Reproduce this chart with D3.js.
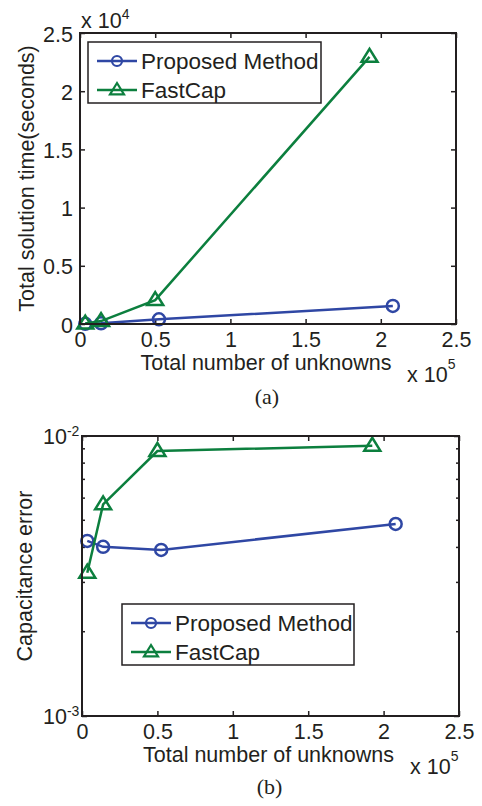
<!DOCTYPE html>
<html><head><meta charset="utf-8">
<script src="https://cdn.jsdelivr.net/npm/d3@7"></script>
<style>
html,body{margin:0;padding:0;background:#fff;}
svg{display:block;}
text{font-family:"Liberation Sans",Arial,sans-serif;fill:#231f20;}
</style></head>
<body>
<svg id="c" width="482" height="806"></svg>
<script>
// ---- data ----
const seriesNames = ["Proposed Method", "FastCap"];
const proposedX = [3500, 14000, 52500, 208000];
const fastcapX  = [3500, 14000, 50000, 192500];
// (a) total solution time (seconds)
const proposedTime = [20, 60, 400, 1550];
const fastcapTime  = [40, 250, 2050, 22950];
// (b) capacitance error
const proposedErr = [0.00422, 0.00402, 0.00392, 0.00485];
const fastcapErr  = [0.00325, 0.00570, 0.00884, 0.00923];
// ticks
const xTicks = [0, 50000, 100000, 150000, 200000, 250000];
const xTickLabels = ["0", "0.5", "1", "1.5", "2", "2.5"];
const yTicksA = [0, 5000, 10000, 15000, 20000, 25000];
const yTickLabelsA = ["0", "0.5", "1", "1.5", "2", "2.5"];
const yMinorB = [0.002,0.003,0.004,0.005,0.006,0.007,0.008,0.009];

const BLUE = "#2f47a4", GREEN = "#0c7f3e", INK = "#231f20";
const FS = "21.5px";
const svg = d3.select("#c");
svg.append("rect").attr("width",482).attr("height",806).attr("fill","#fff");

function marker(g, type, cx, cy, color){
  if(type==="o"){
    g.append("circle").attr("cx",cx).attr("cy",cy).attr("r",6)
      .attr("fill","none").attr("stroke",color).attr("stroke-width",2.5);
  } else {
    const s=8;
    g.append("path").attr("d",`M${cx},${cy-s}L${cx+s},${cy+s*0.62}L${cx-s},${cy+s*0.62}Z`)
      .attr("fill","none").attr("stroke",color).attr("stroke-width",2.5).attr("stroke-linejoin","miter");
  }
}

function drawPanel(opt){
  const {L,R,T,B,y,yTicks,yFmt,series,legend,caption,xlabelY,capY,ylabel,ylabelX} = opt;
  const x = d3.scaleLinear().domain([0,250000]).range([L,R]);
  const g = svg.append("g");
  const fmtX = d => xTickLabels[xTicks.indexOf(d)];
  const axB = g.append("g").attr("transform",`translate(0,${B})`)
    .call(d3.axisBottom(x).tickValues(xTicks).tickSize(-5).tickPadding(8).tickFormat(fmtX));
  const axT = g.append("g").attr("transform",`translate(0,${T})`)
    .call(d3.axisTop(x).tickValues(xTicks).tickSize(-5).tickFormat(""));
  const axL = g.append("g").attr("transform",`translate(${L},0)`)
    .call(d3.axisLeft(y).tickValues(yTicks).tickSize(-5).tickPadding(7).tickFormat(yFmt));
  const axR = g.append("g").attr("transform",`translate(${R},0)`)
    .call(d3.axisRight(y).tickValues(yTicks).tickSize(-5).tickFormat(""));
  [axB,axT,axL,axR].forEach(a=>{
    a.select(".domain").remove();
    a.selectAll("line").attr("stroke",INK).attr("stroke-width",1.5);
    a.selectAll("text").style("font-size",FS).attr("fill",INK)
      .style("font-family","'Liberation Sans',Arial,sans-serif");
  });
  axL.selectAll("text").attr("dy","0.38em");
  if(opt.minor){
    [[L,1],[R,-1]].forEach(([xx,dir])=>{
      g.selectAll(null).data(opt.minor).enter().append("line")
        .attr("x1",xx).attr("x2",xx+dir*3).attr("y1",d=>y(d)).attr("y2",d=>y(d))
        .attr("stroke",INK).attr("stroke-width",1.5);
    });
  }
  const line = d3.line().x(d=>x(d[0])).y(d=>y(d[1]));
  series.forEach(s=>{
    const pts = s.xs.map((v,i)=>[v,s.ys[i]]);
    g.append("path").attr("d",line(pts)).attr("fill","none")
      .attr("stroke",s.color).attr("stroke-width",2.5);
    pts.forEach(p=>marker(g,s.type,x(p[0]),y(p[1]),s.color));
  });
  g.append("rect").attr("x",L).attr("y",T).attr("width",R-L).attr("height",B-T)
    .attr("fill","none").attr("stroke",INK).attr("stroke-width",2);
  // legend
  const lg = g.append("g");
  lg.append("rect").attr("x",legend.x).attr("y",legend.y).attr("width",legend.w).attr("height",legend.h)
    .attr("fill","#fff").attr("stroke",INK).attr("stroke-width",1.5);
  series.forEach((s,i)=>{
    const yy = legend.y + 19 + i*29;
    const x0 = legend.x + 9, x1 = x0 + 40;
    lg.append("line").attr("x1",x0).attr("x2",x1).attr("y1",yy).attr("y2",yy)
      .attr("stroke",s.color).attr("stroke-width",2.5);
    if(s.type==="o"){
      lg.append("circle").attr("cx",(x0+x1)/2).attr("cy",yy).attr("r",5)
        .attr("fill","none").attr("stroke",s.color).attr("stroke-width",2.2);
    } else {
      const cx=(x0+x1)/2, sz=7;
      lg.append("path").attr("d",`M${cx},${yy-sz}L${cx+sz},${yy+sz*0.62}L${cx-sz},${yy+sz*0.62}Z`)
        .attr("fill","none").attr("stroke",s.color).attr("stroke-width",2.2);
    }
    lg.append("text").attr("x",x1+4).attr("y",yy).attr("dy","0.36em")
      .style("font-size","22.5px").text(s.name);
  });
  g.append("text").attr("x",(L+R)/2-2).attr("y",xlabelY).attr("text-anchor","middle")
    .style("font-size",FS).text("Total number of unknowns");
  const xm = g.append("text").attr("x",R-49).attr("y",xlabelY+12).style("font-size",FS);
  xm.append("tspan").text("x 10");
  xm.append("tspan").attr("dy",-13).style("font-size","14px").text("5");
  g.append("text").attr("transform",`translate(${ylabelX},${(T+B)/2}) rotate(-90)`)
    .attr("text-anchor","middle").style("font-size",FS).text(ylabel);
  g.append("text").attr("x",(L+R)/2-1).attr("y",capY).attr("text-anchor","middle")
    .style("font-family","'Liberation Serif','Times New Roman',serif").style("font-size","22px").text(caption);
  return {g,x,y};
}

// ---- panel (a) ----
const yA = d3.scaleLinear().domain([0,25000]).range([324,33]);
const pa = drawPanel({
  L:80,R:456,T:33,B:324,y:yA,yTicks:yTicksA,
  yFmt:d=>yTickLabelsA[yTicksA.indexOf(d)],
  series:[
    {name:seriesNames[0],xs:proposedX,ys:proposedTime,color:BLUE,type:"o"},
    {name:seriesNames[1],xs:fastcapX,ys:fastcapTime,color:GREEN,type:"^"}],
  legend:{x:88,y:42,w:233,h:61},
  caption:"(a)",xlabelY:370,capY:404,
  ylabel:"Total solution time(seconds)",ylabelX:34
});
const xa = pa.g.append("text").attr("x",81).attr("y",28).style("font-size",FS);
xa.append("tspan").text("x 10");
xa.append("tspan").attr("dy",-9).style("font-size","14px").text("4");

// ---- panel (b) ----
const yB = d3.scaleLog().domain([0.001,0.01]).range([716,436]);
const pb = drawPanel({
  L:82,R:459,T:436,B:716,y:yB,yTicks:[0.001,0.01],
  yFmt:()=>"",minor:yMinorB,
  series:[
    {name:seriesNames[0],xs:proposedX,ys:proposedErr,color:BLUE,type:"o"},
    {name:seriesNames[1],xs:fastcapX,ys:fastcapErr,color:GREEN,type:"^"}],
  legend:{x:122,y:604,w:232,h:61},
  caption:"(b)",xlabelY:762,capY:794,
  ylabel:"Capacitance error",ylabelX:32
});
[[0.01],[0.001]].forEach(([v])=>{
  const t = pb.g.append("text").attr("x",43).attr("y",yB(v)+8).style("font-size",FS);
  t.append("tspan").text("10");
  t.append("tspan").attr("dy",-8).style("font-size","14px").text(v===0.01?"-2":"-3");
});
</script>
</body></html>
